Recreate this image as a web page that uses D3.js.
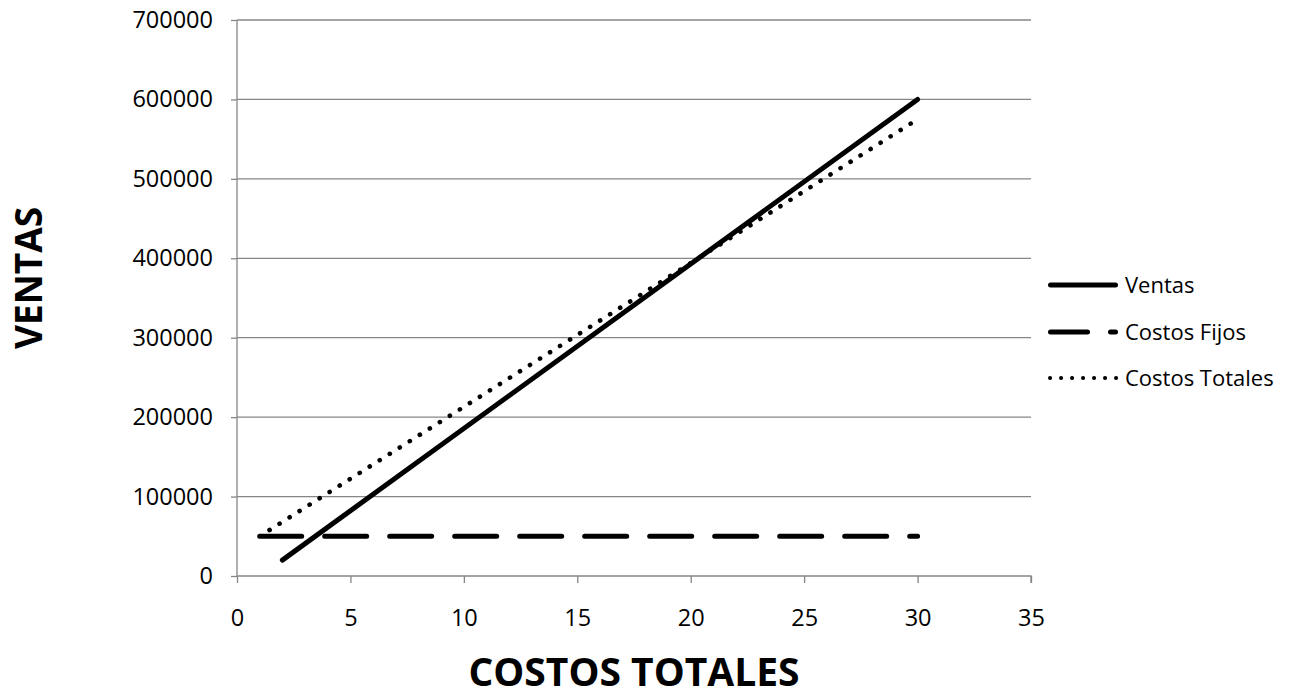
<!DOCTYPE html>
<html>
<head>
<meta charset="utf-8">
<script src="https://cdn.jsdelivr.net/npm/d3@7"></script>
<style>
  html, body { margin: 0; padding: 0; background: #fff; }
  svg { display: block; }
  text { font-family: "Open Sans", "Noto Sans", sans-serif; fill: #000; }
</style>
</head>
<body>
<svg id="chart" width="1296" height="698"></svg>
<script>
// ---- data ----
const ventasX = [2, 30];
const ventasY = [20000, 600000];
const fijosX = [1, 30];
const fijosY = [50000, 50000];
const totalesX = [1, 30];
const totalesY = [50000, 575000];
const seriesNames = ["Ventas", "Costos Fijos", "Costos Totales"];
const xTicks = [0, 5, 10, 15, 20, 25, 30, 35];
const yTicks = [0, 100000, 200000, 300000, 400000, 500000, 600000, 700000];
const xTitle = "COSTOS TOTALES";
const yTitle = "VENTAS";

// ---- layout ----
const svg = d3.select("#chart");
const plot = { left: 237, right: 1031, top: 20, bottom: 576 };
const x = d3.scaleLinear().domain([0, 35]).range([plot.left, plot.right]);
const y = d3.scaleLinear().domain([0, 700000]).range([plot.bottom, plot.top]);
const gray = "#868686";

// gridlines
svg.append("g").selectAll("line").data(yTicks.filter(d => d > 0)).join("line")
  .attr("x1", plot.left).attr("x2", plot.right)
  .attr("y1", d => y(d)).attr("y2", d => y(d))
  .attr("stroke", gray).attr("stroke-width", 1.3);

// axes
const yAxis = svg.append("g").attr("transform", `translate(${plot.left},0)`)
  .call(d3.axisLeft(y).tickValues(yTicks).tickFormat(d3.format("d")).tickSize(6).tickPadding(18));
const xAxis = svg.append("g").attr("transform", `translate(0,${plot.bottom})`)
  .call(d3.axisBottom(x).tickValues(xTicks).tickFormat(d3.format("d")).tickSize(7).tickPadding(26));
[yAxis, xAxis].forEach(g => {
  g.select(".domain").attr("stroke", gray).attr("stroke-width", 1.3);
  g.selectAll(".tick line").attr("stroke", gray).attr("stroke-width", 1.3);
  g.selectAll(".tick text").attr("font-size", 23.5).attr("font-family", "Open Sans").attr("fill", "#000");
});
yAxis.select(".domain").attr("d", `M0,${plot.bottom}V${plot.top}`);
xAxis.select(".domain").attr("d", `M${plot.left},0H${plot.right}V7`);

// series
const line = d3.line().x(d => x(d[0])).y(d => y(d[1]));
const styles = [
  { dash: null, w: 5, off: 0 },
  { dash: "42 23", w: 5, off: 0 },
  { dash: "0.1 11.76", w: 4.6, off: 0.2 }
];
const seriesData = [
  d3.zip(ventasX, ventasY),
  d3.zip(fijosX, fijosY),
  d3.zip(totalesX, totalesY)
];
seriesData.forEach((data, i) => {
  svg.append("path").datum(data).attr("d", line)
    .attr("fill", "none").attr("stroke", "#000")
    .attr("stroke-width", styles[i].w)
    .attr("stroke-linecap", "round")
    .attr("stroke-dasharray", styles[i].dash)
    .attr("stroke-dashoffset", styles[i].off);
});

// legend
const legend = svg.append("g");
const legY = [285, 332, 378];
const legLine = [
  { x1: 1050.5, x2: 1115.5, dash: null, w: 5 },
  { x1: 1050.5, x2: 1115.5, dash: "37 23", w: 5 },
  { x1: 1050, x2: 1116.1, dash: "0.1 10.9", w: 4 }
];
seriesNames.forEach((name, i) => {
  const g = legend.append("g").attr("transform", `translate(0,${legY[i]})`);
  g.append("line").attr("x1", legLine[i].x1).attr("x2", legLine[i].x2).attr("y1", 0).attr("y2", 0)
    .attr("stroke", "#000").attr("stroke-width", legLine[i].w)
    .attr("stroke-linecap", "round")
    .attr("stroke-dasharray", legLine[i].dash);
  g.append("text").attr("x", 1125).attr("y", 0).attr("dy", "0.35em")
    .attr("font-size", 22).text(name);
});

// axis titles
svg.append("text").attr("x", (plot.left + plot.right) / 2).attr("y", 686)
  .attr("text-anchor", "middle").attr("font-size", 39).attr("font-weight", 700)
  .text(xTitle);
svg.append("text")
  .attr("transform", `translate(42,278) rotate(-90)`)
  .attr("text-anchor", "middle").attr("font-size", 37).attr("font-weight", 700)
  .text(yTitle);
</script>
</body>
</html>
